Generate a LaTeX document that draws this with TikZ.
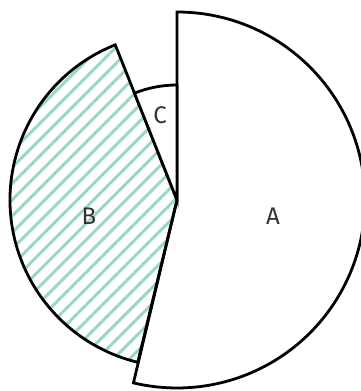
\documentclass[tikz,border=0pt]{standalone}
\usepackage{fontspec}
\setsansfont{Fira Sans}
\usetikzlibrary{patterns.meta}
\definecolor{hatchgreen}{HTML}{99D8C9}

\begin{document}
\begin{tikzpicture}[
  x=1pt, y=1pt,
  slice/.style={draw=black, line width=2.8pt, line join=miter},
  hatched/.style={pattern={Lines[angle=45, distance=11.5pt, line width=3pt]}, pattern color=hatchgreen},
  lbl/.style={font=\sffamily\fontsize{24}{28}\selectfont, text=black!80}
]
\useasboundingbox (0,0) rectangle (360,391);
\coordinate (o) at (177,191);

% slices
\draw[slice, fill=white] (o) -- ++(90:188) arc[start angle=90, end angle=-103.4, radius=188] -- cycle;
\fill[hatched] (o) -- ++(111.7:167) arc[start angle=111.7, end angle=256.4, radius=167] -- cycle;
\draw[slice] (o) -- ++(111.7:167) arc[start angle=111.7, end angle=256.4, radius=167] -- cycle;
\draw[slice, fill=white] (o) -- ++(90:115) arc[start angle=90, end angle=111.7, radius=115] -- cycle;

% labels
\node[lbl] (la) at (273,175) {A};
\node[lbl] (lb) at (89,175) {B};
\node[lbl] (lc) at (160,276) {C};
\end{tikzpicture}
\end{document}
